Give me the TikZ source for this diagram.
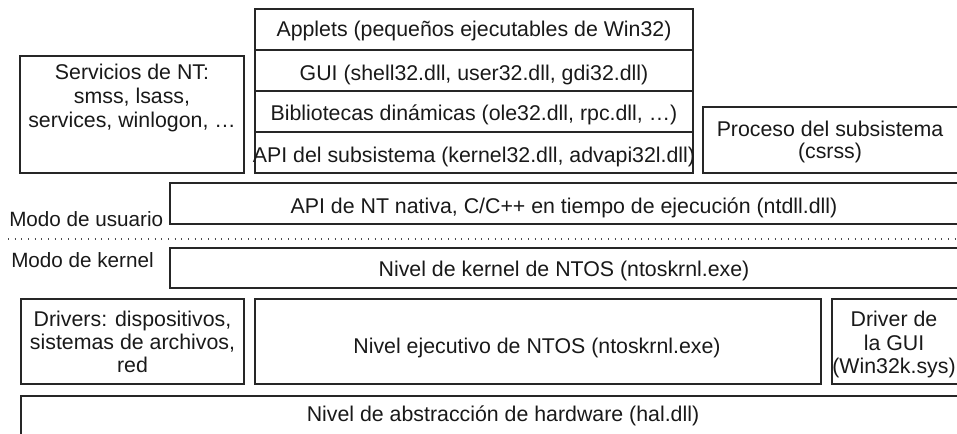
\documentclass[tikz,border=0pt]{standalone}
\usepackage{fontspec}
\setmainfont{Liberation Sans}
\usetikzlibrary{positioning}

\tikzset{
  caja/.style={draw=black!85, line width=0.8pt},
  texto/.style={inner sep=0pt, align=center, font=\fontsize{16}{17.5}\selectfont, text=black!90},
  modo/.style={texto, font=\fontsize{15.5}{17}\selectfont},
  punteada/.style={draw=black!70, line width=0.8pt, dash pattern=on 0.8pt off 4.2pt},
}

\begin{document}
\begin{tikzpicture}[x=0.75pt, y=-0.75pt]
    \useasboundingbox (0,0) rectangle (957,433);
    \clip (0,0) rectangle (957,433);
    % Servicios de NT
    \draw[caja] (20,56) rectangle (244,173);
    \node[texto, font=\fontsize{16}{18.3}\selectfont] (servicios) at (132,98) {Servicios de NT:\\smss, lsass,\\services, winlogon, …};
    % Pila de Win32
    \draw[caja] (255,9) rectangle (693,173);
    \foreach \y in {50,91,132} {
        \draw[caja] (255,\y) -- (693,\y);
    }
    \node[texto, anchor=base] (applets) at (474,36.5) {Applets (pequeños ejecutables de Win32)};
    \node[texto, anchor=base] (gui) at (474,80) {GUI (shell32.dll, user32.dll, gdi32.dll)};
    \node[texto, anchor=base] (biblio) at (474,120.7) {Bibliotecas dinámicas (ole32.dll, rpc.dll, …)};
    \node[texto, anchor=base] (apisub) at (474,162) {API del subsistema (kernel32.dll, advapi32l.dll)};
    % Proceso del subsistema
    \draw[caja] (703,107) rectangle (960,173);
    \node[texto, font=\fontsize{16}{16.8}\selectfont] (csrss) at (830,142) {Proceso del subsistema\\(csrss)};
    % API nativa
    \draw[caja] (170,183) rectangle (960,224);
    \node[texto, anchor=base] (ntdll) at (564,213) {API de NT nativa, C/C++ en tiempo de ejecución (ntdll.dll)};
    % Frontera de modos
    \node[modo, anchor=base west] (usuario) at (9,226) {Modo de usuario};
    \draw[punteada] (8,239) -- (960,239);
    \node[modo, anchor=base west] (kernel) at (11,267) {Modo de kernel};
    % Kernel
    \draw[caja] (170,248) rectangle (960,288);
    \node[texto, anchor=base] (ntoskrnl) at (564,276) {Nivel de kernel de NTOS (ntoskrnl.exe)};
    % Ejecutivo y drivers
    \draw[caja] (21,299) rectangle (244,384);
    \node[texto] (drivers) at (132.5,342) {Drivers: dispositivos,\\sistemas de archivos,\\red};
    \draw[caja] (255,299) rectangle (821,384);
    \node[texto, anchor=base] (ejecutivo) at (537,353) {Nivel ejecutivo de NTOS (ntoskrnl.exe)};
    \draw[caja] (832,299) rectangle (960,384);
    \node[texto] (win32k) at (894,344.5) {Driver de\\la GUI\\(Win32k.sys)};
    % HAL
    \draw[caja] (21,396) rectangle (985,440);
    \node[texto, anchor=base] (hal) at (503,421) {Nivel de abstracción de hardware (hal.dll)};
\end{tikzpicture}
\end{document}
